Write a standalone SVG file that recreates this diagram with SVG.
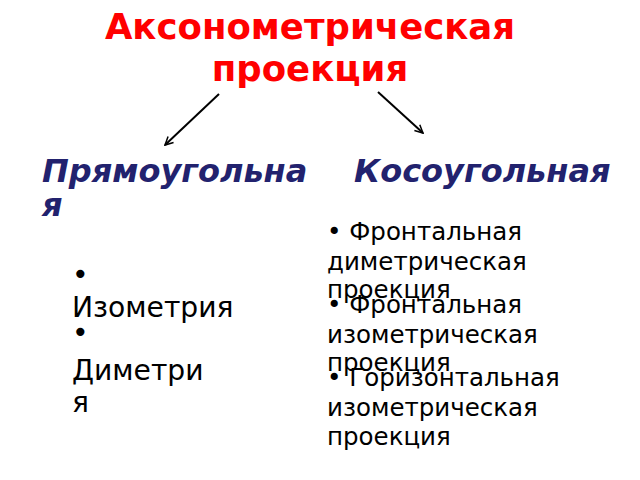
<svg xmlns="http://www.w3.org/2000/svg" width="640" height="480" viewBox="0 0 640 480">
<style>
.title{font-family:"DejaVu Sans",sans-serif;font-weight:bold;font-size:35.5px;fill:#ff0000;text-anchor:middle}
.head{font-family:"DejaVu Sans",sans-serif;font-weight:bold;font-style:italic;font-size:32px;fill:#22226e}
.lft{font-family:"DejaVu Sans",sans-serif;font-size:28.2px;fill:#000}
.rgt{font-family:"DejaVu Sans",sans-serif;font-size:24.5px;fill:#000}
.conn{stroke:#000;stroke-width:2;fill:none}
</style>
<defs>
<marker id="arr" viewBox="0 0 10 10" refX="9" refY="5" markerWidth="5" markerHeight="5" orient="auto" markerUnits="strokeWidth">
<path d="M1,1 L9,5 L1,9" fill="none" stroke="#000" stroke-width="1.5"/>
</marker>
</defs>
<rect width="640" height="480" fill="#fff"/>
<g id="title">
<text class="title" x="310" y="39">Аксонометрическая</text>
<text class="title" x="310" y="81">проекция</text>
</g>
<g id="connectors">
<line class="conn" x1="219" y1="94" x2="165" y2="145" marker-end="url(#arr)"/>
<line class="conn" x1="378" y1="92" x2="423" y2="133" marker-end="url(#arr)"/>
</g>
<g id="rect">
<text class="head" x="42" y="182">Прямоугольна</text>
<text class="head" x="42" y="216">я</text>
</g>
<g id="oblique">
<text class="head" x="354" y="182">Косоугольная</text>
</g>
<g id="rect-list">
<text class="lft" x="72" y="284">•</text>
<text class="lft" x="72" y="317">Изометрия</text>
<text class="lft" x="72" y="342">•</text>
<text class="lft" x="72" y="380">Диметри</text>
<text class="lft" x="72" y="412">я</text>
</g>
<g id="oblique-list">
<text class="rgt" x="327" y="240">• Фронтальная</text>
<text class="rgt" x="327" y="270">диметрическая</text>
<text class="rgt" x="327" y="298">проекция</text>
<text class="rgt" x="327" y="313">• Фронтальная</text>
<text class="rgt" x="327" y="343">изометрическая</text>
<text class="rgt" x="327" y="371">проекция</text>
<text class="rgt" x="327" y="386">• Горизонтальная</text>
<text class="rgt" x="327" y="416">изометрическая</text>
<text class="rgt" x="327" y="445">проекция</text>
</g>
</svg>
